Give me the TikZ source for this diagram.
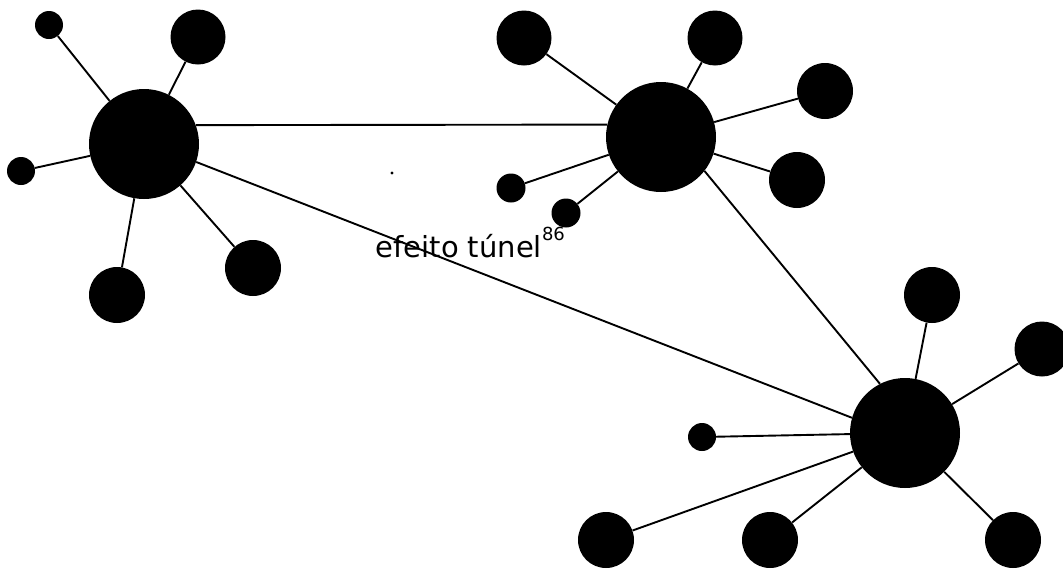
\documentclass[tikz,border=0pt]{standalone}
\usepackage{fontspec}
\usepackage{tikz}
\newfontfamily\rotulo{DejaVu Sans}
\tikzset{
  hub/.style={circle,fill=black,inner sep=0pt,minimum size=110pt},
  bola/.style={circle,fill=black,inner sep=0pt,minimum size=#1},
  elo/.style={line width=1.9pt}
}

\begin{document}
\begin{tikzpicture}[x=1pt,y=-1pt]
\clip (0,0) rectangle (1063,568);
\node[hub] (hub1) at (144,144) {};
\node[hub] (hub2) at (661,137) {};
\node[hub] (hub3) at (905,433) {};
% ligacoes entre os nucleos
\draw[elo] (hub1.20) -- (hub2.167);
\draw[elo] (hub2.-38) -- (hub3.117);
\draw[elo] (hub1.-19) -- (hub3.164);
% satelites de cada nucleo
\foreach \n/\x/\y/\d/\h in {a1/49/25/28/hub1,a2/198/37/55/hub1,a3/21/171/28/hub1,a4/117/295/56/hub1,a5/253/268/56/hub1,
  b1/524/38/55/hub2,b2/715/38/55/hub2,b3/825/91/56/hub2,b4/797/180/56/hub2,b5/511/188/29/hub2,b6/566/213/29/hub2,
  c1/932/295/56/hub3,c2/1042/349/55/hub3,c3/702/437/28/hub3,c4/606/540/56/hub3,c5/770/540/56/hub3,c6/1013/540/56/hub3}{
  \node[bola=\d pt] (\n) at (\x,\y) {};
  \draw[elo] (\h) -- (\n);
}
\fill (392,173) circle (1.6pt);
\node[anchor=base west,inner sep=0pt] (tunel) at (375.5,257)
  {\rotulo\fontsize{29}{30}\selectfont efeito túnel\raisebox{17pt}{\fontsize{18}{18}\selectfont 86}};
\end{tikzpicture}
\end{document}
